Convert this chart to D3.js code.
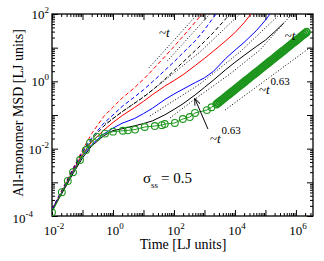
<!DOCTYPE html>
<html>
<head>
<meta charset="utf-8">
<script src="https://cdn.jsdelivr.net/npm/d3@7"></script>
<style>
  body { margin: 0; background: #fff; }
  text { font-family: "Liberation Serif", "Times New Roman", serif; fill: #000; }
</style>
</head>
<body>
<script>
// ---- data (time, MSD in LJ units) ----
const tGrid = [0.01, 0.02, 0.05, 0.1, 0.2, 0.5, 1, 2, 5, 10, 20, 50, 100, 200, 500, 1e3, 2e3, 5e3, 1e4, 2e4, 5e4, 1e5, 2e5];

const redDashT = tGrid.slice(0, 15).concat([830]);
const redDash = [1.6e-4, 5.4e-4, 2.7e-3, 9.1e-3, 0.028, 0.091, 0.17, 0.32, 0.64, 1.15, 2.2, 5.4, 10.8, 22, 58, 100];

const blueDashT = tGrid.slice(0, 17).concat([2400]);
const blueDash = [1.6e-4, 5.2e-4, 2.6e-3, 8.2e-3, 0.021, 0.057, 0.10, 0.18, 0.34, 0.56, 0.98, 2.1, 3.8, 7.1, 16, 34, 80, 100];

const blackDashT = tGrid.slice(0, 18).concat([6850]);
const blackDash = [1.5e-4, 4.8e-4, 2.4e-3, 7.7e-3, 0.019, 0.047, 0.078, 0.126, 0.22, 0.34, 0.56, 1.14, 2.07, 3.75, 8.2, 15.2, 28.6, 72, 100];

const redSolidT = tGrid.slice(0, 20).concat([3.35e4]);
const redSolid = [1.5e-4, 4.8e-4, 2.3e-3, 6.8e-3, 0.0158, 0.0356, 0.060, 0.096, 0.165, 0.254, 0.406, 0.72, 1.05, 1.58, 2.95, 4.8, 8.0, 16, 28, 55, 100];

const blueSolidT = tGrid.slice(0, 22).concat([1.41e5]);
const blueSolid = [1.5e-4, 4.6e-4, 2.14e-3, 6.1e-3, 0.0132, 0.0273, 0.0406, 0.057, 0.078, 0.110, 0.160, 0.287, 0.418, 0.59, 0.92, 1.27, 2.0, 4.8, 8.4, 14.4, 31.9, 65.5, 100];

const blackSolidT = tGrid.slice(0, 23).concat([4e5]);
const blackSolid = [1.4e-4, 4.3e-4, 1.88e-3, 5.3e-3, 0.012, 0.0242, 0.0345, 0.039, 0.0475, 0.0556, 0.0673, 0.101, 0.146, 0.217, 0.398, 0.661, 1.10, 2.23, 3.67, 5.89, 10.8, 16.8, 29.6, 54];

// sigma_ss = 0.5 (green circles)
const greenT = [0.01, 0.021, 0.033, 0.049, 0.083, 0.13, 0.176, 0.30, 0.55, 1.0, 2.1, 3.1, 5.3, 11, 23.5, 40, 50, 107, 195, 330, 490, 1200, 1700,
  2.51e3, 2.82e3, 3.16e3, 3.55e3, 3.98e3, 4.47e3, 5.01e3, 5.62e3, 6.31e3, 7.08e3, 7.94e3, 8.91e3,
  1e4, 1.12e4, 1.26e4, 1.41e4, 1.58e4, 1.78e4, 2e4, 2.24e4, 2.51e4, 2.82e4, 3.16e4, 3.55e4, 3.98e4, 4.47e4, 5.01e4, 5.62e4, 6.31e4, 7.08e4, 7.94e4, 8.91e4,
  1e5, 1.12e5, 1.26e5, 1.41e5, 1.58e5, 1.78e5, 2e5, 2.24e5, 2.51e5, 2.82e5, 3.16e5, 3.55e5, 3.98e5, 4.47e5, 5.01e5, 5.62e5, 6.31e5, 7.08e5, 7.94e5, 8.91e5,
  1e6, 1.12e6, 1.26e6, 1.41e6, 1.58e6, 1.78e6, 2e6, 2.24e6];
const greenMsd = [1.3e-4, 5.1e-4, 1.1e-3, 2.0e-3, 4.6e-3, 9.1e-3, 0.0148, 0.0224, 0.028, 0.032, 0.034, 0.035, 0.037, 0.044, 0.047, 0.050, 0.054, 0.058, 0.076, 0.087, 0.115, 0.14, 0.17,
  0.210, 0.229, 0.249, 0.270, 0.294, 0.319, 0.347, 0.378, 0.410, 0.446, 0.485, 0.527,
  0.573, 0.622, 0.677, 0.736, 0.800, 0.869, 0.945, 1.03, 1.12, 1.21, 1.32, 1.44, 1.56, 1.69, 1.84, 2.00, 2.18, 2.37, 2.57, 2.80,
  3.04, 3.30, 3.59, 3.91, 4.25, 4.61, 5.02, 5.46, 5.93, 6.44, 7.01, 7.62, 8.28, 8.99, 9.78, 10.6, 11.6, 12.6, 13.7, 14.9,
  16.1, 17.5, 19.1, 20.7, 22.5, 24.5, 26.6, 29.0];

// dotted guide lines
const dotAT = [15, 600],                     dotA = [2.5, 100];
const dotBT = [60, 1500],                    dotB = [4, 100];
const dotCT = [0.55, 16.3, 711, 1.46e4],     dotC = [0.054, 0.48, 7.4, 100];
const dotDT = [16.3, 711, 1.46e4, 2.99e5],   dotD = [0.0935, 0.834, 7.43, 100];
const dotET = [74, 489, 6850, 6.6e4, 7.4e5], dotE = [0.0815, 0.299, 1.65, 8.53, 100];
const dotFT = [4700, 3.3e6],                 dotF = [0.14, 11];

const xMajor = d3.range(-2, 7).map(e => Math.pow(10, e));
const xLabelExp = [-2, 0, 2, 4, 6];
const yMajor = d3.range(-4, 3).map(e => Math.pow(10, e));
const yLabelExp = [-4, -2, 0, 2];

// annotations: [t, msd] anchor of text
const annotTilt = [[32, 20.7], [4.3e5, 16.5]];
const annotPow = [[6.1e4, 0.42], [1514, 0.01476]];
const arrowFrom = [1300, 0.0384], arrowTo = [489, 0.30];

// ---- layout ----
const margin = {top: 14, right: 11, bottom: 45, left: 52},
    width = 324 - margin.left - margin.right,
    height = 261 - margin.top - margin.bottom;

const svgRoot = d3.select("body").append("svg")
    .attr("width", 324).attr("height", 261);
const svg = svgRoot.append("g")
    .attr("transform", `translate(${margin.left}, ${margin.top})`);

const x = d3.scaleLog().domain([1e-2, 3.63e6]).range([0, width]);
const y = d3.scaleLog().domain([1e-4, 1e2]).range([height, 0]);

function minorsOf(majors, maxVal) {
  const out = [];
  majors.forEach(m => { for (let k = 2; k <= 9; k++) if (m * k <= maxVal) out.push(m * k); });
  return out;
}

function drawAxes() {
  const xMinor = minorsOf(xMajor, x.domain()[1]);
  const yMinor = minorsOf(yMajor.slice(0, -1), y.domain()[1]);
  const sides = [
    [d3.axisBottom, x, `translate(0,${height})`, xMajor, xMinor],
    [d3.axisTop, x, `translate(0,0)`, xMajor, xMinor],
    [d3.axisLeft, y, `translate(0,0)`, yMajor, yMinor],
    [d3.axisRight, y, `translate(${width},0)`, yMajor, yMinor]
  ];
  sides.forEach(([ax, sc, tr, maj, min]) => {
    [[maj, -6], [min, -3]].forEach(([vals, len]) => {
      svg.append("g")
        .attr("transform", tr)
        .call(ax(sc).tickValues(vals).tickSize(len).tickFormat(""))
        .call(g => g.select(".domain").remove())
        .selectAll("line").attr("stroke", "#000").attr("stroke-width", 1);
    });
  });

  svg.append("rect")
    .attr("width", width).attr("height", height)
    .attr("fill", "none").attr("stroke", "#000").attr("stroke-width", 1.3);

  // tick labels: 10^n
  xLabelExp.forEach(e => {
    const t = svg.append("text")
      .attr("x", x(Math.pow(10, e)) + 2).attr("y", height + 19)
      .attr("text-anchor", "middle").attr("font-size", 13).text("10");
    t.append("tspan").attr("dy", -6).attr("font-size", 9).text(e);
  });
  yLabelExp.forEach(e => {
    const t = svg.append("text")
      .attr("x", e === -4 ? -19 : -3).attr("y", y(Math.pow(10, e)) + (e === -4 ? 7 : 5))
      .attr("text-anchor", "end").attr("font-size", 13).text("10");
    t.append("tspan").attr("dy", -6).attr("font-size", 9).text(e);
  });

  svg.append("text")
    .attr("x", 131).attr("y", height + 33)
    .attr("text-anchor", "middle").attr("font-size", 14)
    .text("Time [LJ units]");
  svg.append("text")
    .attr("transform", `translate(-29, ${height / 2 - 2}) rotate(-90)`)
    .attr("text-anchor", "middle").attr("font-size", 14)
    .text("All-monomer MSD [LJ units]");
}

function drawCurves() {
  svg.append("clipPath").attr("id", "plotClip")
    .append("rect").attr("width", width).attr("height", height);
  const plot = svg.append("g").attr("clip-path", "url(#plotClip)");
  const line = d3.line().x(d => x(d[0])).y(d => y(d[1]));
  const zip = (a, b) => a.map((v, i) => [v, b[i]]);

  const series = [
    [dotAT, dotA, "#000", "1,2"], [dotBT, dotB, "#000", "1,2"], [dotCT, dotC, "#000", "1,2"],
    [dotDT, dotD, "#000", "1,2"], [dotET, dotE, "#000", "1,2"], [dotFT, dotF, "#000", "1,2"],
    [redDashT, redDash, "#ff0000", "4,2.5"], [blueDashT, blueDash, "#0000ff", "4,2.5"],
    [blackDashT, blackDash, "#000", "4,2.5"],
    [redSolidT, redSolid, "#ff0000", null], [blueSolidT, blueSolid, "#0000ff", null],
    [blackSolidT, blackSolid, "#000", null]
  ];
  series.forEach(([ts, ms, col, dash]) => {
    plot.append("path")
      .datum(zip(ts, ms))
      .attr("d", line)
      .attr("fill", "none")
      .attr("stroke", col)
      .attr("stroke-width", 1)
      .attr("stroke-dasharray", dash);
  });

  const green = zip(greenT, greenMsd);
  plot.append("path").datum(green).attr("d", line)
    .attr("fill", "none").attr("stroke", "#1e961e").attr("stroke-width", 1);
  plot.selectAll(".pt").data(green).enter().append("circle")
    .attr("class", "pt")
    .attr("cx", d => x(d[0])).attr("cy", d => y(d[1]))
    .attr("r", 3.4)
    .attr("fill", "none").attr("stroke", "#1e961e")
    .attr("stroke-width", d => d[0] > 2000 ? 1.8 : 1.1);
}

function drawLabels() {
  annotTilt.forEach(([t, m]) => {
    const tx = svg.append("text").attr("x", x(t)).attr("y", y(m)).attr("font-size", 13).text("~");
    tx.append("tspan").attr("font-style", "italic").text("t");
  });
  annotPow.forEach(([t, m]) => {
    const tx = svg.append("text").attr("x", x(t)).attr("y", y(m)).attr("font-size", 13).text("~");
    tx.append("tspan").attr("font-style", "italic").text("t");
    tx.append("tspan").attr("dy", -9).attr("dx", 1).attr("font-size", 11).text("0.63");
  });

  svgRoot.append("defs").append("marker")
    .attr("id", "head").attr("viewBox", "0 0 10 10").attr("refX", 9).attr("refY", 5)
    .attr("markerWidth", 7).attr("markerHeight", 7).attr("orient", "auto")
    .append("path").attr("d", "M0,1 L10,5 L0,9").attr("fill", "none").attr("stroke", "#000").attr("stroke-width", 1.3);
  svg.append("line")
    .attr("x1", x(arrowFrom[0])).attr("y1", y(arrowFrom[1]))
    .attr("x2", x(arrowTo[0])).attr("y2", y(arrowTo[1]))
    .attr("stroke", "#000").attr("stroke-width", 1)
    .attr("marker-end", "url(#head)");

  const s = svg.append("text").attr("x", x(9.6)).attr("y", y(9.6e-4)).attr("font-size", 15).text("σ");
  s.append("tspan").attr("dy", 5).attr("font-size", 9).text("ss");
  s.append("tspan").attr("dy", -5).attr("dx", 3).attr("font-size", 15).text("= 0.5");
}

drawAxes();
drawCurves();
drawLabels();
</script>
</body>
</html>
